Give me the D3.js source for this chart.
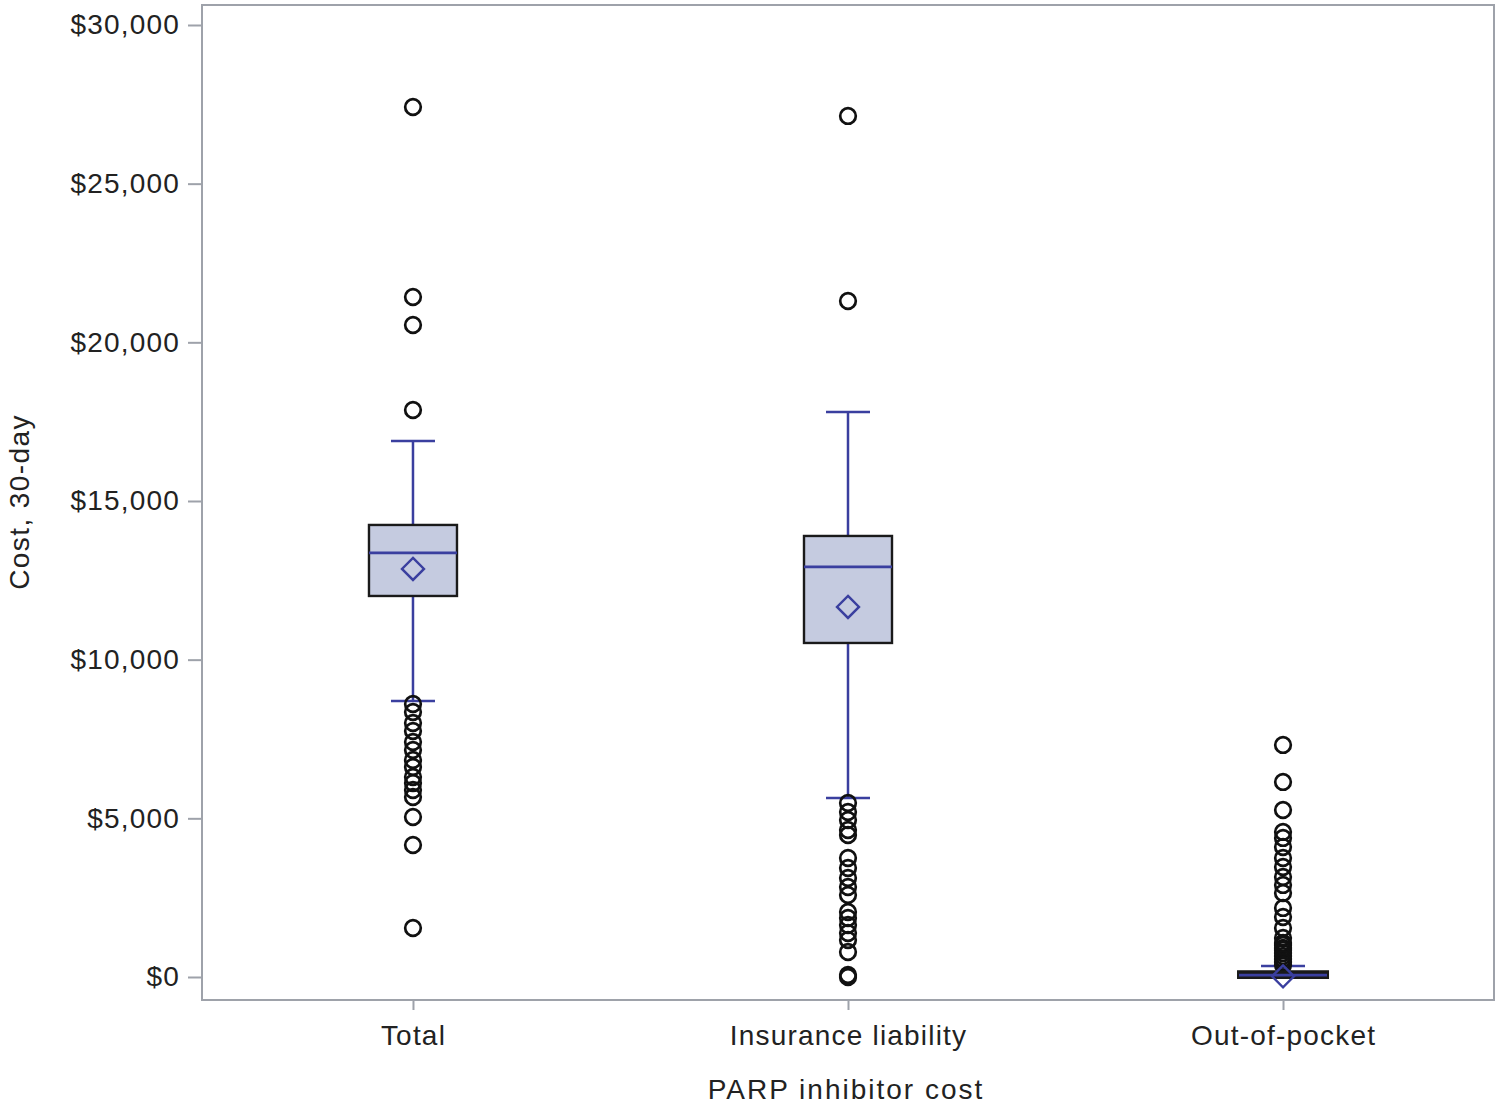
<!DOCTYPE html>
<html><head><meta charset="utf-8">
<script src="https://cdn.jsdelivr.net/npm/d3@7"></script>
<style>body{margin:0;background:#fff}svg{display:block}text{font-family:"Liberation Sans",Arial,sans-serif;fill:#222}</style>
</head><body><svg id="c" width="1500" height="1105"></svg>
<script>
const categories = ["Total", "Insurance liability", "Out-of-pocket"];
const q1 = [12007, 10526, 0];
const median = [13362, 12921, 60];
const q3 = [14245, 13898, 150];
const mean = [12858, 11661, 20];
const whiskerLow = [8698, 5641, 0];
const whiskerHigh = [16891, 17805, 350];
const outliersTotal = [27416, 21429, 20546, 17868, 8603, 8351, 8004, 7752, 7406, 7153, 6838, 6618, 6303, 6114, 5893, 5672, 5042, 4160, 1544];
const outliersInsurance = [27133, 21303, 5483, 5200, 4948, 4632, 4475, 3750, 3435, 3120, 2836, 2584, 2048, 1859, 1639, 1387, 1166, 788, 63, 0];
const outliersOOP = [7312, 6146, 5263, 4570, 4381, 4097, 3750, 3467, 3152, 2900, 2647, 2175, 1891, 1544, 1229, 1071, 1008, 914, 851, 756, 662, 567, 473, 378];
const outliers = [outliersTotal, outliersInsurance, outliersOOP];
const yTicks = [0, 5000, 10000, 15000, 20000, 25000, 30000];

const svg = d3.select("#c");
const L = 202, R = 1494, T = 5, B = 1000;
const y = d3.scaleLinear().domain([-725, 30630]).range([B, T]);
const x = d3.scalePoint().domain(categories).range([L, R]).padding(0.485);
const navy = "#3a3f9f", frame = "#9ea2aa";
const bw = 88, cap = 44;
const FONT = '"Liberation Sans",Arial,sans-serif';

// y axis
const ya = svg.append("g").attr("transform", `translate(${L},0)`)
  .call(d3.axisLeft(y).tickValues(yTicks).tickSize(14).tickPadding(8).tickFormat(d => "$" + d3.format(",")(d)));
ya.select(".domain").remove();
ya.selectAll(".tick line").attr("stroke", frame).attr("stroke-width", 2);
ya.selectAll(".tick text").attr("font-size", 28).attr("letter-spacing", 1.2).attr("fill", "#222").attr("font-family", FONT);

// x axis
const xa = svg.append("g").attr("transform", `translate(0,${B})`)
  .call(d3.axisBottom(x).tickSize(10).tickPadding(15));
xa.select(".domain").remove();
xa.selectAll(".tick line").attr("stroke", frame).attr("stroke-width", 2);
xa.selectAll(".tick text").attr("font-size", 28).attr("letter-spacing", 1.2).attr("fill", "#222").attr("font-family", FONT);

// frame
svg.append("rect").attr("x", L).attr("y", T).attr("width", R - L).attr("height", B - T)
  .attr("fill", "none").attr("stroke", frame).attr("stroke-width", 2);

// titles
svg.append("text").attr("x", 846).attr("y", 1099).attr("text-anchor", "middle").attr("font-size", 28).attr("letter-spacing", 2).text("PARP inhibitor cost");
svg.append("text").attr("transform", "translate(29,502) rotate(-90)").attr("text-anchor", "middle").attr("font-size", 28).attr("letter-spacing", 1.4).text("Cost, 30-day");

categories.forEach((c, i) => {
  const cx = x(c);
  const g = svg.append("g");
  // whiskers
  g.append("line").attr("x1", cx).attr("x2", cx).attr("y1", y(q3[i])).attr("y2", y(whiskerHigh[i])).attr("stroke", navy).attr("stroke-width", 2.5);
  g.append("line").attr("x1", cx).attr("x2", cx).attr("y1", y(q1[i])).attr("y2", y(whiskerLow[i])).attr("stroke", navy).attr("stroke-width", 2.5);
  g.append("line").attr("x1", cx - cap / 2).attr("x2", cx + cap / 2).attr("y1", y(whiskerHigh[i])).attr("y2", y(whiskerHigh[i])).attr("stroke", navy).attr("stroke-width", 2.5);
  g.append("line").attr("x1", cx - cap / 2).attr("x2", cx + cap / 2).attr("y1", y(whiskerLow[i])).attr("y2", y(whiskerLow[i])).attr("stroke", navy).attr("stroke-width", 2.5);
  // outliers
  g.selectAll("circle").data(outliers[i]).join("circle")
    .attr("cx", cx).attr("cy", d => y(d)).attr("r", 7.8)
    .attr("fill", "none").attr("stroke", "#111").attr("stroke-width", 2.7);
  // box
  const h = Math.max(y(q1[i]) - y(q3[i]), 3);
  g.append("rect").attr("x", cx - bw / 2).attr("y", y(q3[i])).attr("width", bw).attr("height", h)
    .attr("fill", "#c5cbe0").attr("stroke", "#1a1a1a").attr("stroke-width", i === 2 ? 4 : 2.4);
  g.append("line").attr("x1", cx - bw / 2).attr("x2", cx + bw / 2).attr("y1", y(median[i])).attr("y2", y(median[i])).attr("stroke", navy).attr("stroke-width", 2.7);
  // mean diamond
  const my = y(mean[i]), d = 11;
  g.append("path").attr("d", `M${cx},${my - d}L${cx + d},${my}L${cx},${my + d}L${cx - d},${my}Z`)
    .attr("fill", "none").attr("stroke", navy).attr("stroke-width", 2.4);
});
</script></body></html>
